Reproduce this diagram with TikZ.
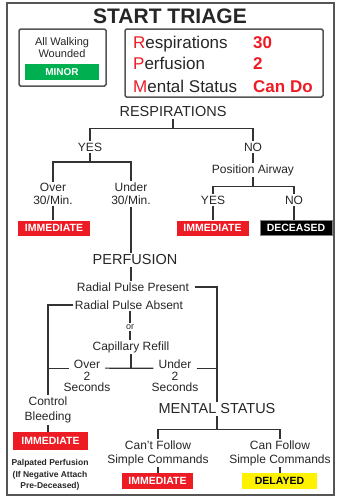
\documentclass[tikz,border=0pt]{standalone}
\usepackage{fontspec}
\setmainfont{Liberation Sans}
\usepackage{tikz}
\usetikzlibrary{positioning}
\definecolor{triagered}{RGB}{237,28,36}
\definecolor{triagegreen}{RGB}{0,176,80}
\definecolor{triageyellow}{RGB}{255,242,0}
\definecolor{framegray}{RGB}{85,85,85}
\tikzset{
  lbl/.style={inner sep=1.5pt,align=center,text=black!85,font=\fontsize{12}{13}\selectfont},
  head/.style={inner sep=2pt,text=black!85,font=\fontsize{14.5}{16}\selectfont},
  vit/.style={anchor=west,inner sep=1.5pt,text height=12pt,text depth=3.5pt,text=black!85,font=\fontsize{17}{17}\selectfont},
  vitval/.style={vit,text=triagered,font=\fontsize{17}{17}\selectfont\bfseries},
  tag/.style={minimum width=72pt,minimum height=15pt,inner sep=0pt,text=white,font=\fontsize{10.5}{11}\selectfont\bfseries},
  wire/.style={line width=1.2pt,draw=black!80},
  panel/.style={line width=1.5pt,draw=framegray,rounded corners=1.5pt},
}
\begin{document}
\begin{tikzpicture}[x=1pt,y=-1pt]
  \useasboundingbox (0,0) rectangle (337,498);
  \draw[line width=2.2pt,framegray] (7,3) rectangle (334,495);
  \node[font=\fontsize{21}{21}\selectfont\bfseries,text=black!85] (title) at (170,16) {START TRIAGE};

  % walking wounded and vitals
  \draw[panel] (19,29) rectangle (106,86);
  \node[lbl,font=\fontsize{11}{12}\selectfont] (walk) at (62,48) {All Walking\\Wounded};
  \node[tag,fill=triagegreen,minimum width=74pt,minimum height=16pt,font=\fontsize{10}{11}\selectfont\bfseries] (minor) at (62,72) {MINOR};
  \draw[panel] (125,29) rectangle (323,97);
  \node[vit] (respname) at (131.5,44) {\textcolor{triagered}{R}espirations};
  \node[vit] (perfname) at (131.5,65) {\textcolor{triagered}{P}erfusion};
  \node[vit] (mentname) at (131.5,88) {\textcolor{triagered}{M}ental Status};
  \node[vitval] (respval) at (251.5,44) {30};
  \node[vitval] (perfval) at (251.5,65) {2};
  \node[vitval] (mentval) at (251.5,88) {Can Do};

  % respirations
  \node[head] (resp) at (173,112) {RESPIRATIONS};
  \node[lbl] (yes) at (90,147) {YES};
  \node[lbl] (no) at (253,147) {NO};
  \draw[wire] (resp.south) -- ++(0,9) -| (yes.north);
  \draw[wire] (resp.south) -- ++(0,9) -| (no.north);
  \node[lbl] (over) at (53,194) {Over\\30/Min.};
  \node[lbl] (under) at (131,194) {Under\\30/Min.};
  \draw[wire] (yes.south) -- ++(0,9) -| (over.north);
  \draw[wire] (yes.south) -- ++(0,9) -| (under.north);
  \node[tag,fill=triagered] (immA) at (54,228) {IMMEDIATE};
  \draw[wire] (over) -- (over |- immA.north);
  \node[lbl] (airway) at (253,170) {Position Airway};
  \draw[wire] (no) -- (airway);
  \node[lbl] (yesB) at (213,200) {YES};
  \node[lbl] (noB) at (294,200) {NO};
  \draw[wire] (airway.south) -- ++(0,9) -| (yesB.north);
  \draw[wire] (airway.south) -- ++(0,9) -| (noB.north);
  \node[tag,fill=triagered] (immB) at (212.5,228) {IMMEDIATE};
  \node[tag,fill=black,draw=gray,line width=1pt] (dead) at (296,228) {DECEASED};
  \draw[wire] (yesB) -- (yesB |- immB.north);
  \draw[wire] (noB) -- (noB |- dead.north);

  % perfusion
  \node[head] (perf) at (135,260) {PERFUSION};
  \draw[wire] (under) -- (under |- perf.north);
  \node[lbl] (present) at (133,287) {Radial Pulse Present};
  \node[lbl] (absent) at (129,305) {Radial Pulse Absent};
  \draw[wire] (perf.south -| under) -- (present.north -| under);
  \node[lbl,font=\fontsize{9}{10}\selectfont] (or) at (130,327) {or};
  \draw[wire] (absent.south -| or) -- (or);
  \node[lbl] (refill) at (131,347) {Capillary Refill};
  \draw[wire] (or) -- (or |- refill.north);
  \node[lbl,inner xsep=5pt] (over2) at (87,364) {Over};
  \node[lbl,inner xsep=5pt] (under2) at (175,364) {Under};
  \node[lbl,font=\fontsize{12}{11}\selectfont] (secA) at (87,382) {2\\Seconds};
  \node[lbl,font=\fontsize{12}{11}\selectfont] (secB) at (175,382) {2\\Seconds};
  \node[lbl,font=\fontsize{12}{15}\selectfont] (control) at (48,410) {Control\\Bleeding};
  \node[head] (mental) at (217,409) {MENTAL STATUS};
  \draw[wire] (refill) -- (refill |- over2.base);
  \draw[wire] (over2.base east) -- (under2.base west);
  \draw[wire] (over2.base west) -- (over2.base west -| control);
  \draw[wire] (under2.base east) -- (under2.base east -| mental);
  \draw[wire] (absent.west) -| (control.north);
  \draw[wire,shorten <=4pt] (present.east) -| (mental.north);
  \node[tag,fill=triagered,minimum width=75pt,minimum height=18pt] (immC) at (50.5,441) {IMMEDIATE};
  \draw[wire] (control) -- (control |- immC.north);
  \node[lbl,font=\fontsize{8.5}{11.5}\selectfont\bfseries] (note) at (50,475) {Palpated Perfusion\\(If Negative Attach\\Pre-Deceased)};

  % mental status
  \node[lbl,font=\fontsize{12}{14}\selectfont] (cant) at (158,453) {Can't Follow\\Simple Commands};
  \node[lbl,font=\fontsize{12}{14}\selectfont] (can) at (280,453) {Can Follow\\Simple Commands};
  \draw[wire] (mental.south) -- ++(0,13) -| (cant.north);
  \draw[wire] (mental.south) -- ++(0,13) -| (can.north);
  \node[tag,fill=triagered,minimum width=71pt,minimum height=16pt] (immD) at (157.5,481) {IMMEDIATE};
  \node[tag,fill=triageyellow,text=black,minimum width=75pt,minimum height=16pt] (delayed) at (279.5,481) {DELAYED};
  \draw[wire] (cant) -- (cant |- immD.north);
  \draw[wire] (can) -- (can |- delayed.north);
\end{tikzpicture}
\end{document}
